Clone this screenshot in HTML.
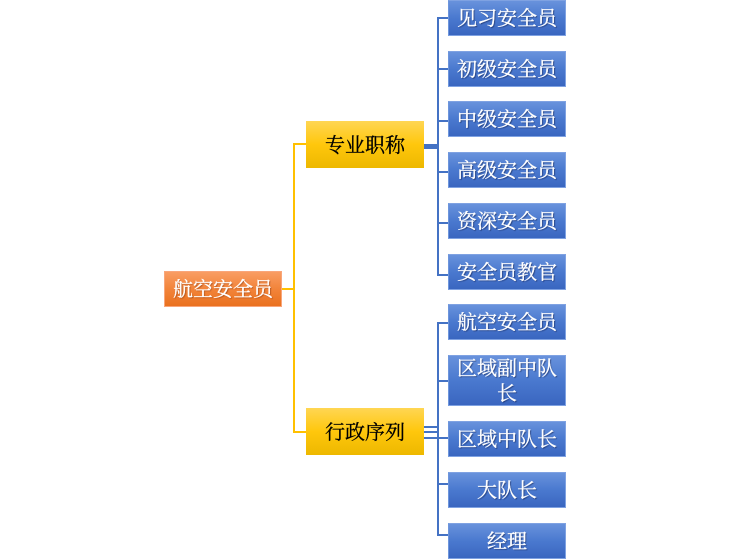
<!DOCTYPE html>
<html><head><meta charset="utf-8"><style>
html,body{margin:0;padding:0;background:#fff;}
body{width:730px;height:559px;position:relative;overflow:hidden;font-family:"Liberation Serif","Noto Serif CJK SC",serif;}
.b{position:absolute;box-sizing:border-box;display:flex;align-items:center;justify-content:center;text-align:center;font-size:20px;line-height:25px;padding-top:3px;-webkit-text-stroke:0.3px currentColor;}
.blue{left:448px;width:118px;height:36px;color:#fff;background:linear-gradient(to bottom,#6892DC 0%,#4a79cf 50%,#3a66c0 100%);border:1px solid #7fa2e2;border-left-color:#6d95dc;text-shadow:1px 1px 1px rgba(0,0,30,0.45);}
.yel{left:306px;width:118px;height:47px;color:#000;background:linear-gradient(to bottom,#ffd653 0%,#ffc70c 50%,#edb800 100%);}
.org{left:164px;top:271px;width:118px;height:36px;color:#fff;background:linear-gradient(to bottom,#f99d63 0%,#f2843a 50%,#ea711f 100%);border:1px solid #f9a67a;text-shadow:1px 1px 1px rgba(80,20,0,0.4);}
.l{position:absolute;}
.y{background:#ffc000;}
.bl{background:#4472c4;}
</style></head><body>
<!-- yellow connectors -->
<div class="l y" style="left:282px;top:288px;width:13px;height:2px"></div>
<div class="l y" style="left:293px;top:143px;width:2px;height:290px"></div>
<div class="l y" style="left:293px;top:143px;width:13px;height:2px"></div>
<div class="l y" style="left:293px;top:431px;width:13px;height:2px"></div>

<!-- blue group 1 -->
<div class="l bl" style="left:424px;top:144px;width:14px;height:5px"></div>
<div class="l bl" style="left:437px;top:17px;width:2px;height:259px"></div>
<div class="l bl" style="left:437px;top:17px;width:11px;height:2px"></div>
<div class="l bl" style="left:437px;top:68px;width:11px;height:2px"></div>
<div class="l bl" style="left:437px;top:120px;width:11px;height:2px"></div>
<div class="l bl" style="left:437px;top:171px;width:11px;height:2px"></div>
<div class="l bl" style="left:437px;top:222px;width:11px;height:2px"></div>
<div class="l bl" style="left:437px;top:274px;width:11px;height:2px"></div>

<!-- blue group 2 -->
<div class="l bl" style="left:437px;top:322px;width:2px;height:214px"></div>
<div class="l bl" style="left:437px;top:322px;width:11px;height:2px"></div>
<div class="l bl" style="left:437px;top:380px;width:11px;height:2px"></div>
<div class="l bl" style="left:424px;top:426px;width:13px;height:2px"></div>
<div class="l bl" style="left:424px;top:431px;width:13px;height:2px"></div>
<div class="l bl" style="left:424px;top:437px;width:24px;height:2px"></div>
<div class="l bl" style="left:437px;top:483px;width:11px;height:2px"></div>
<div class="l bl" style="left:437px;top:534px;width:11px;height:2px"></div>

<!-- nodes -->
<div class="b org">航空安全员</div>
<div class="b yel" style="top:121px">专业职称</div>
<div class="b yel" style="top:408px">行政序列</div>

<div class="b blue" style="top:0px">见习安全员</div>
<div class="b blue" style="top:51px">初级安全员</div>
<div class="b blue" style="top:101px">中级安全员</div>
<div class="b blue" style="top:152px">高级安全员</div>
<div class="b blue" style="top:203px">资深安全员</div>
<div class="b blue" style="top:254px">安全员教官</div>

<div class="b blue" style="top:304px">航空安全员</div>
<div class="b blue" style="top:355px;height:51px">区域副中队<br>长</div>
<div class="b blue" style="top:421px">区域中队长</div>
<div class="b blue" style="top:472px">大队长</div>
<div class="b blue" style="top:523px">经理</div>
</body></html>
